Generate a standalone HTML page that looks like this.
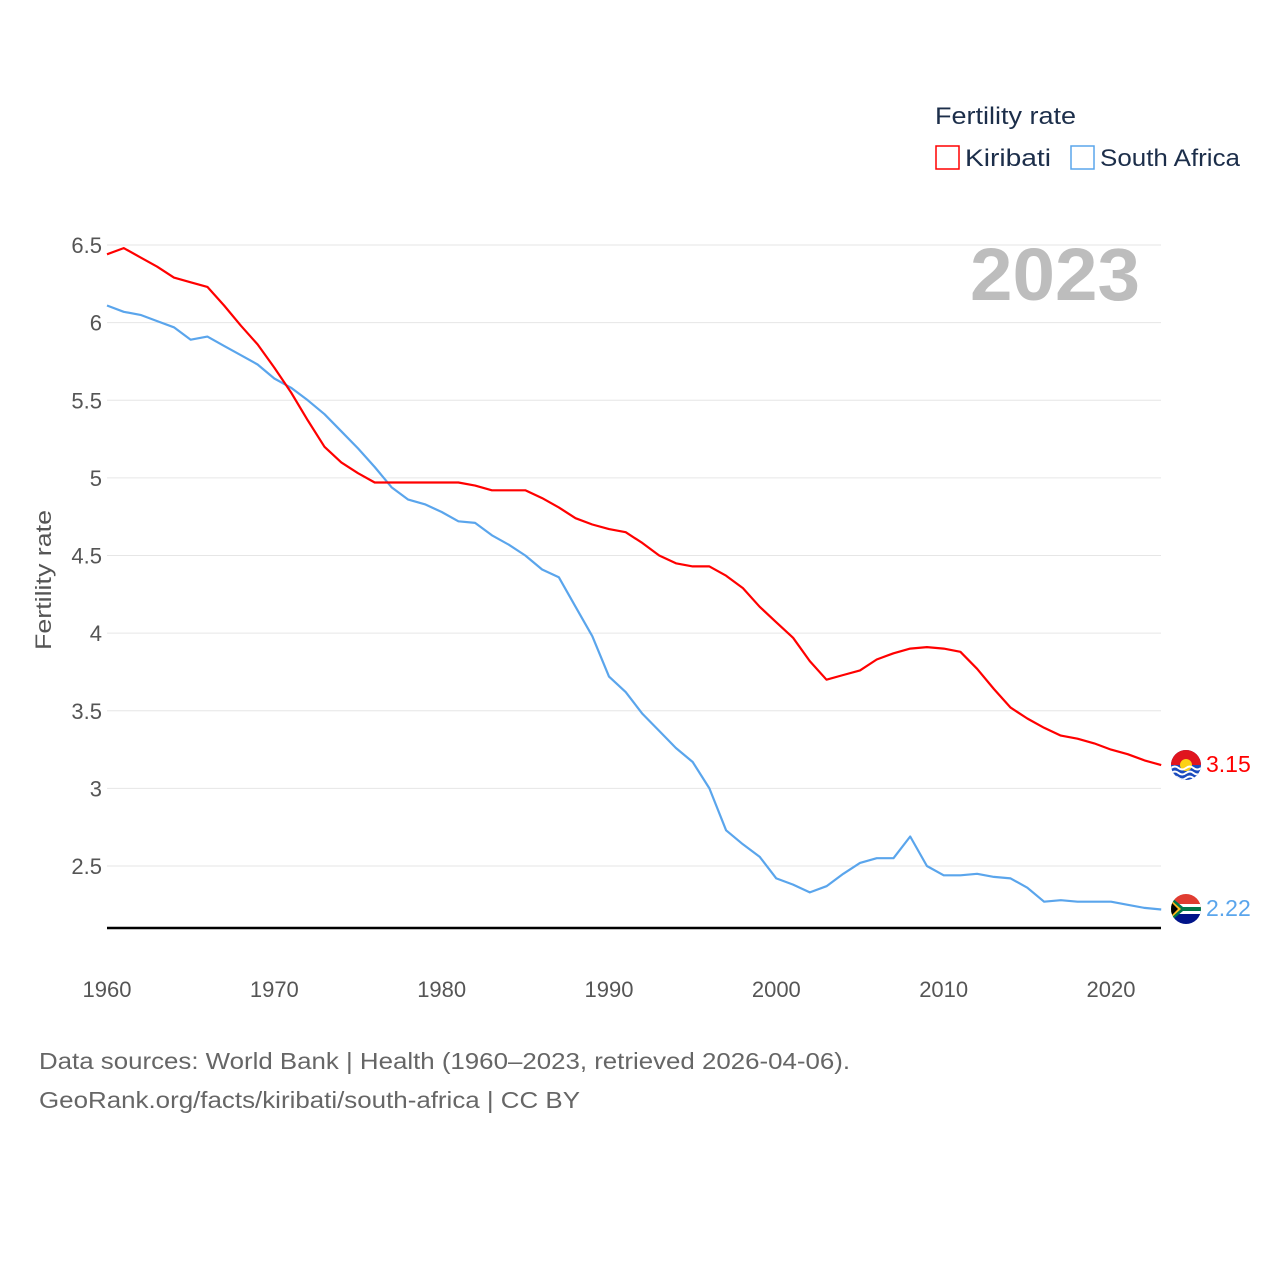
<!DOCTYPE html>
<html><head><meta charset="utf-8">
<style>
html,body{margin:0;padding:0;background:#fff;}
body{width:1280px;height:1280px;overflow:hidden;font-family:"Liberation Sans",sans-serif;}
svg text{font-family:"Liberation Sans",sans-serif;}
</style></head>
<body>
<svg id="chart" width="1280" height="1280" xmlns="http://www.w3.org/2000/svg">
  <g id="grid"></g>
  <g id="yticks"></g>
  <g id="xticks"></g>
  <text x="1140" y="300" text-anchor="end" font-size="74" font-weight="bold" fill="#bdbdbd" textLength="170" lengthAdjust="spacingAndGlyphs">2023</text>
  <text transform="translate(51,580) rotate(-90)" text-anchor="middle" font-size="22" fill="#555" textLength="140" lengthAdjust="spacingAndGlyphs">Fertility rate</text>
  <line x1="107" x2="1161" y1="928" y2="928" stroke="#000" stroke-width="2.5"/>
  <g id="series"></g>
  <g>
    <text x="935" y="124" font-size="24" fill="#1c2e4a" textLength="141" lengthAdjust="spacingAndGlyphs">Fertility rate</text>
    <g>
      <rect x="936" y="146" width="23" height="23" fill="none" stroke="#ff0000" stroke-width="1.5"/>
      <text x="965" y="166" font-size="24" fill="#1c2e4a" textLength="86" lengthAdjust="spacingAndGlyphs">Kiribati</text>
    </g>
    <g>
      <rect x="1071" y="146" width="23" height="23" fill="none" stroke="#5aa5ec" stroke-width="1.5"/>
      <text x="1100" y="166" font-size="24" fill="#1c2e4a" textLength="140" lengthAdjust="spacingAndGlyphs">South Africa</text>
    </g>
  </g>
  <g>
    <clipPath id="ck"><circle cx="1186" cy="765" r="15"/></clipPath>
    <g clip-path="url(#ck)">
      <rect x="1171" y="750" width="30" height="30" fill="#1a4bbd"/>
      <rect x="1171" y="750" width="30" height="15" fill="#e0141e"/>
      <circle cx="1186" cy="765" r="6" fill="#fcd116"/>
      <path d="M1171 768 q4 -3 7.5 0 t7.5 0 t7.5 0 t7.5 0 M1171 773 q4 -3 7.5 0 t7.5 0 t7.5 0 t7.5 0 M1171 778 q4 -3 7.5 0 t7.5 0 t7.5 0 t7.5 0" stroke="#fff" stroke-width="2" fill="none"/>
    </g>
  </g>
  <g>
    <clipPath id="cz"><circle cx="1186" cy="909" r="15"/></clipPath>
    <g clip-path="url(#cz)">
      <rect x="1171" y="894" width="30" height="15" fill="#e03c31"/>
      <rect x="1171" y="909" width="30" height="15" fill="#001489"/>
      <rect x="1171" y="904" width="30" height="10" fill="#fff"/>
      <path d="M1171 897 L1183 907 L1201 907 L1201 911 L1183 911 L1171 921 Z" fill="#007749"/>
      <path d="M1171 900 L1181 909 L1171 918 Z" fill="#ffb81c"/>
      <path d="M1171 902 L1178 909 L1171 916 Z" fill="#000"/>
    </g>
  </g>
  <text x="1206" y="772" font-size="23" fill="#ff0000">3.15</text>
  <text x="1206" y="916" font-size="23" fill="#5aa5ec">2.22</text>
  <text x="39" y="1069" font-size="23" fill="#666" textLength="811" lengthAdjust="spacingAndGlyphs">Data sources: World Bank | Health (1960–2023, retrieved 2026-04-06).</text>
  <text x="39" y="1108" font-size="23" fill="#666" textLength="541" lengthAdjust="spacingAndGlyphs">GeoRank.org/facts/kiribati/south-africa | CC BY</text>
</svg>
<script>
const years = [];
for (let y = 1960; y <= 2023; y++) years.push(y);
const kiribati = [6.44,6.48,6.42,6.36,6.29,6.26,6.23,6.11,5.98,5.86,5.71,5.55,5.37,5.20,5.10,5.03,4.97,4.97,4.97,4.97,4.97,4.97,4.95,4.92,4.92,4.92,4.87,4.81,4.74,4.70,4.67,4.65,4.58,4.50,4.45,4.43,4.43,4.37,4.29,4.17,4.07,3.97,3.82,3.70,3.73,3.76,3.83,3.87,3.90,3.91,3.90,3.88,3.77,3.64,3.52,3.45,3.39,3.34,3.32,3.29,3.25,3.22,3.18,3.15];
const southAfrica = [6.11,6.07,6.05,6.01,5.97,5.89,5.91,5.85,5.79,5.73,5.64,5.58,5.50,5.41,5.30,5.19,5.07,4.94,4.86,4.83,4.78,4.72,4.71,4.63,4.57,4.50,4.41,4.36,4.17,3.98,3.72,3.62,3.48,3.37,3.26,3.17,3.00,2.73,2.64,2.56,2.42,2.38,2.33,2.37,2.45,2.52,2.55,2.55,2.69,2.50,2.44,2.44,2.45,2.43,2.42,2.36,2.27,2.28,2.27,2.27,2.27,2.25,2.23,2.22];
const yTicks = [2.5,3,3.5,4,4.5,5,5.5,6,6.5];
const yTickLabels = ["2.5","3","3.5","4","4.5","5","5.5","6","6.5"];
const xTicks = [1960,1970,1980,1990,2000,2010,2020];

const NS = "http://www.w3.org/2000/svg";
function xs(yr){ return 107 + (yr - 1960) * (1111 - 107) / 60; }
function ys(v){ return 866 - (v - 2.5) * (866 - 245) / 4; }

const grid = document.getElementById('grid');
const yt = document.getElementById('yticks');
yTicks.forEach((v, i) => {
  const l = document.createElementNS(NS, 'line');
  l.setAttribute('x1', 107); l.setAttribute('x2', 1161);
  l.setAttribute('y1', ys(v)); l.setAttribute('y2', ys(v));
  l.setAttribute('stroke', '#e6e6e6'); l.setAttribute('stroke-width', '1');
  
  
  grid.appendChild(l);
  const t = document.createElementNS(NS, 'text');
  t.setAttribute('x', 102); t.setAttribute('y', ys(v) + 8);
  t.setAttribute('text-anchor', 'end'); t.setAttribute('font-size', '22'); t.setAttribute('fill', '#555');
  t.textContent = yTickLabels[i];
  
  
  yt.appendChild(t);
});
const xt = document.getElementById('xticks');
xTicks.forEach(yr => {
  const t = document.createElementNS(NS, 'text');
  t.setAttribute('x', xs(yr)); t.setAttribute('y', 997);
  t.setAttribute('text-anchor', 'middle'); t.setAttribute('font-size', '22'); t.setAttribute('fill', '#555');
  t.textContent = yr;
  
  
  xt.appendChild(t);
});
const series = document.getElementById('series');
function drawLine(vals, color, name){
  const p = document.createElementNS(NS, 'polyline');
  p.setAttribute('points', vals.map((v, i) => xs(years[i]).toFixed(1) + ',' + ys(v).toFixed(1)).join(' '));
  p.setAttribute('fill', 'none'); p.setAttribute('stroke', color); p.setAttribute('stroke-width', '2.2');
  p.setAttribute('stroke-linejoin', 'round');
  
  
  series.appendChild(p);
}
drawLine(southAfrica, '#5aa5ec', 'south-africa-line');
drawLine(kiribati, '#ff0000', 'kiribati-line');
</script>
</body></html>
